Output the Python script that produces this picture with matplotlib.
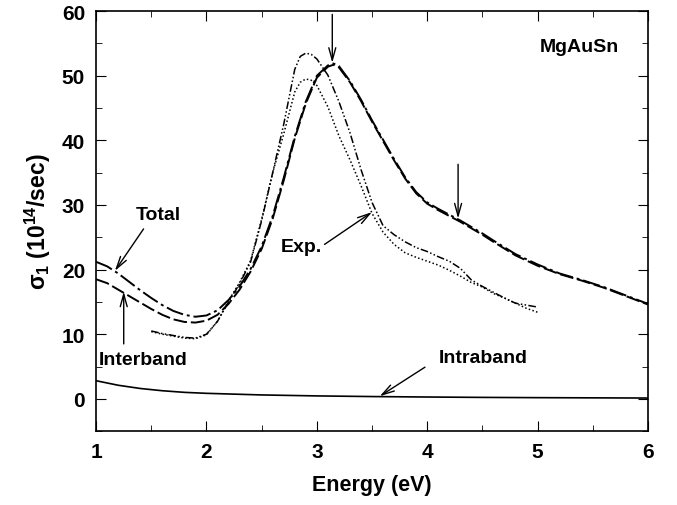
import matplotlib
matplotlib.use("Agg")
import matplotlib.pyplot as plt

plt.rcParams['font.family'] = ['Liberation Sans', 'DejaVu Sans']
plt.rcParams['font.weight'] = 'bold'
plt.rcParams['mathtext.fontset'] = 'custom'
plt.rcParams['mathtext.bf'] = 'Liberation Sans:bold'
plt.rcParams['mathtext.rm'] = 'Liberation Sans:bold'
plt.rcParams['mathtext.default'] = 'bf'

# theory (energy grid shared by total / interband)
e_theory = [1.0, 1.1, 1.2, 1.3, 1.4, 1.5, 1.6, 1.7, 1.8, 1.9, 2.0, 2.1, 2.2, 2.3, 2.4,
            2.5, 2.6, 2.7, 2.8, 2.9, 3.0, 3.1, 3.15, 3.2, 3.3, 3.4, 3.5, 3.6, 3.7, 3.8,
            3.9, 4.0, 4.1, 4.2, 4.3, 4.4, 4.5, 4.6, 4.8, 5.0, 5.2, 5.4, 5.6, 5.8, 6.0]
total = [21.2, 20.5, 19.4, 18.1, 16.8, 15.6, 14.5, 13.6, 13.0, 12.7, 12.9, 13.7, 15.3, 17.4, 20.1,
         23.6, 28.3, 34.2, 40.6, 46.0, 50.0, 51.6, 51.9, 51.5, 49.2, 46.3, 43.1, 40.1, 37.1, 34.3,
         32.0, 30.4, 29.4, 28.5, 27.6, 26.6, 25.6, 24.5, 22.4, 20.8, 19.4, 18.4, 17.3, 16.0, 14.7]
interband = [18.5, 17.9, 16.9, 15.9, 14.9, 13.9, 13.0, 12.3, 11.9, 11.8, 12.1, 13.0, 14.7, 16.9, 19.7,
             23.2, 27.9, 33.8, 40.3, 45.7, 49.7, 51.4, 51.7, 51.3, 49.0, 46.1, 42.9, 39.9, 36.9, 34.1,
             31.8, 30.2, 29.2, 28.3, 27.4, 26.4, 25.4, 24.3, 22.2, 20.6, 19.3, 18.3, 17.2, 15.9, 14.6]

e_intra = [1.0, 1.2, 1.4, 1.6, 1.8, 2.0, 2.5, 3.0, 3.5, 4.0, 4.5, 5.0, 5.5, 6.0]
intraband = [2.8, 2.1, 1.6, 1.25, 1.0, 0.85, 0.6, 0.45, 0.35, 0.28, 0.22, 0.18, 0.15, 0.12]

# experiment (two measurements)
e_exp = [1.5, 1.6, 1.7, 1.8, 1.9, 2.0, 2.1, 2.2, 2.3, 2.4, 2.5, 2.6, 2.7, 2.8, 2.85,
         2.9, 2.95, 3.0, 3.1, 3.2, 3.3, 3.4, 3.5, 3.6, 3.7, 3.8, 3.9, 4.0, 4.1, 4.2,
         4.3, 4.4, 4.5, 4.6, 4.7, 4.8, 4.9, 5.0]
exp_a = [10.5, 10.1, 9.8, 9.5, 9.4, 10.0, 12.0, 15.0, 17.8, 21.2, 27.6, 35.0, 42.5, 51.0, 53.0,
         53.5, 53.3, 52.6, 50.1, 46.0, 41.2, 35.5, 30.4, 26.8, 25.4, 24.3, 23.4, 22.8, 22.0, 21.3,
         20.2, 18.4, 17.4, 16.5, 15.6, 14.8, 14.5, 14.2]
exp_b = [10.4, 10.0, 9.7, 9.4, 9.3, 9.9, 12.0, 15.2, 18.0, 21.4, 27.8, 35.0, 41.0, 47.5, 49.0,
         49.5, 49.3, 48.5, 45.2, 40.7, 37.0, 33.0, 28.7, 25.8, 23.9, 22.6, 21.9, 21.3, 20.7, 19.9,
         19.0, 18.0, 17.3, 16.3, 15.6, 14.8, 14.0, 13.4]

fig = plt.figure(figsize=(6.77, 5.06), dpi=100)
ax = fig.add_axes([0.142, 0.146, 0.815, 0.83])

ax.plot(e_theory, total, color='black', lw=1.4, dashes=[9, 2, 1.5, 2])
ax.plot(e_theory, interband, color='black', lw=1.4, dashes=[7, 2])
ax.plot(e_intra, intraband, color='black', lw=1.2)
ax.plot(e_exp, exp_a, color='black', lw=1.1, dashes=[5, 1.5, 1, 1.5, 1, 1.5])
ax.plot(e_exp, exp_b, color='black', lw=1.1, dashes=[1, 1.5])

ax.set_xlim(1, 6)
ax.set_ylim(-5, 60)
ax.set_xticks([1, 2, 3, 4, 5, 6])
ax.set_xticks([1.5, 2.5, 3.5, 4.5, 5.5], minor=True)
ax.set_yticks([0, 10, 20, 30, 40, 50, 60])
ax.set_yticks([-5, 5, 15, 25, 35, 45, 55], minor=True)
ax.tick_params(which='both', direction='in', top=True, right=True, labelsize=15, pad=8)
ax.tick_params(which='major', length=7)
ax.tick_params(which='minor', length=4)
for s in ax.spines.values():
    s.set_linewidth(1.2)

ax.set_xlabel("Energy (eV)", fontsize=15.5, fontweight='bold', labelpad=9)
ax.set_ylabel(r'$\sigma_1$ (10$^{14}$/sec)', fontsize=16.5, fontweight='bold', labelpad=6)

arr = dict(arrowstyle='->,head_length=0.9,head_width=0.25', color='black', lw=1.0,
           shrinkA=0, shrinkB=0)
ax.annotate('', xy=(3.14, 52.0), xytext=(3.14, 59.5), arrowprops=arr)
ax.annotate('', xy=(4.28, 27.9), xytext=(4.28, 36.3), arrowprops=arr)
ax.annotate('', xy=(1.17, 19.8), xytext=(1.43, 26.3), arrowprops=arr)
ax.annotate('', xy=(1.25, 16.6), xytext=(1.25, 8.5), arrowprops=arr)
ax.annotate('', xy=(3.50, 28.9), xytext=(3.07, 23.9), arrowprops=arr)
ax.annotate('', xy=(3.57, 0.4), xytext=(3.98, 4.9), arrowprops=arr)

ax.text(1.56, 28.5, "Total", fontsize=14, fontweight='bold', ha='center', va='center')
ax.text(1.43, 6.1, "Interband", fontsize=14, fontweight='bold', ha='center', va='center')
ax.text(2.86, 23.5, "Exp.", fontsize=14, fontweight='bold', ha='center', va='center')
ax.text(4.51, 6.45, "Intraband", fontsize=14, fontweight='bold', ha='center', va='center')
ax.text(5.38, 54.6, "MgAuSn", fontsize=14, fontweight='bold', ha='center', va='center')

fig.savefig("out.png", dpi=100)
